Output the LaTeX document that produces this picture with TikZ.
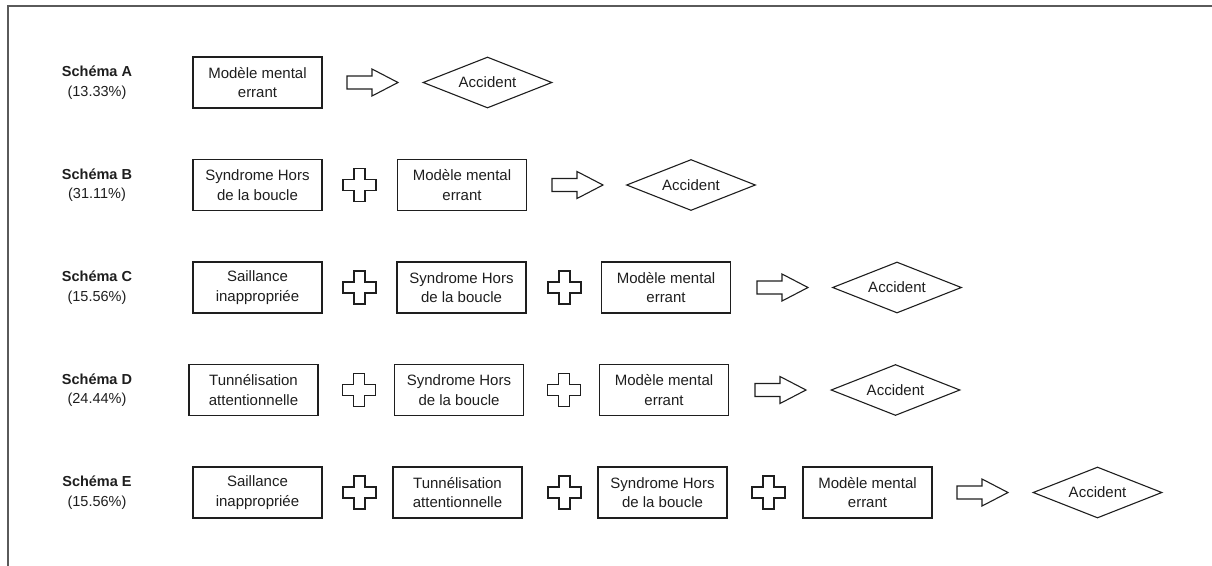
\documentclass[tikz,border=0pt]{standalone}
\usepackage{fontspec}
\setmainfont{Liberation Sans}
\usetikzlibrary{shapes.geometric}
\definecolor{framegray}{HTML}{5A5A5A}
\definecolor{ink}{HTML}{1E1E1E}
\tikzset{
  shapeline/.style={draw=ink, line width=1.1pt, line join=miter},
  factor/.style={shapeline, rectangle, minimum width=129pt, minimum height=51pt, inner sep=0pt, align=center, text=ink, font=\fontsize{15}{19.5}\selectfont},
  outcome/.style={shapeline, diamond, aspect=2.53, minimum width=129pt, minimum height=51pt, inner sep=0pt, text=ink, font=\fontsize{15}{19.5}\selectfont},
  rowlabel/.style={align=center, text=ink, inner sep=0pt, font=\fontsize{14.5}{19.5}\selectfont},
  plussym/.pic={\draw[shapeline] (-5.5,-16.5) -- (5.5,-16.5) -- (5.5,-5.5) -- (16.5,-5.5) -- (16.5,5.5) -- (5.5,5.5) -- (5.5,16.5) -- (-5.5,16.5) -- (-5.5,5.5) -- (-16.5,5.5) -- (-16.5,-5.5) -- (-5.5,-5.5) -- cycle;},
  blockarr/.pic={\draw[shapeline] (0,-6.5) -- (25,-6.5) -- (25,-13.5) -- (51,0) -- (25,13.5) -- (25,6.5) -- (0,6.5) -- cycle;}
}
\begin{document}
\begin{tikzpicture}[x=1pt, y=-1pt]
\useasboundingbox (0,0) rectangle (1212,565);
\draw[framegray, line width=2pt] (8,566) -- (8,6) -- (1213,6);

% Row A
\node[rowlabel] (la) at (97,82.5) {\textbf{Schéma A}\\(13.33\%)};
\node[factor] (a1) at (257.5,82.5) {Modèle mental\\errant};
\pic at (347,82.5) {blockarr};
\node[outcome] (ad) at (487.5,82.5) {Accident};

% Row B
\node[rowlabel] (lb) at (97,185) {\textbf{Schéma B}\\(31.11\%)};
\node[factor] (b1) at (257.5,185) {Syndrome Hors\\de la boucle};
\pic at (359.5,185) {plussym};
\node[factor] (b2) at (462,185) {Modèle mental\\errant};
\pic at (552,185) {blockarr};
\node[outcome] (bd) at (691,185) {Accident};

% Row C
\node[rowlabel] (lc) at (97,287.5) {\textbf{Schéma C}\\(15.56\%)};
\node[factor] (c1) at (257.5,287.5) {Saillance\\inappropriée};
\pic at (359.5,287.5) {plussym};
\node[factor] (c2) at (461.5,287.5) {Syndrome Hors\\de la boucle};
\pic at (564.5,287.5) {plussym};
\node[factor] (c3) at (666,287.5) {Modèle mental\\errant};
\pic at (757,287.5) {blockarr};
\node[outcome] (cd) at (897,287.5) {Accident};

% Row D
\node[rowlabel] (ld) at (97,390) {\textbf{Schéma D}\\(24.44\%)};
\node[factor] (d1) at (253.5,390) {Tunnélisation\\attentionnelle};
\pic at (359,390) {plussym};
\node[factor] (d2) at (459,390) {Syndrome Hors\\de la boucle};
\pic at (564,390) {plussym};
\node[factor] (d3) at (664,390) {Modèle mental\\errant};
\pic at (755,390) {blockarr};
\node[outcome] (dd) at (895.5,390) {Accident};

% Row E
\node[rowlabel] (le) at (97,492.5) {\textbf{Schéma E}\\(15.56\%)};
\node[factor] (e1) at (257.5,492.5) {Saillance\\inappropriée};
\pic at (359.5,492.5) {plussym};
\node[factor] (e2) at (457.5,492.5) {Tunnélisation\\attentionnelle};
\pic at (564.5,492.5) {plussym};
\node[factor] (e3) at (662.5,492.5) {Syndrome Hors\\de la boucle};
\pic at (768.5,492.5) {plussym};
\node[factor] (e4) at (867.5,492.5) {Modèle mental\\errant};
\pic at (957,492.5) {blockarr};
\node[outcome] (ed) at (1097.5,492.5) {Accident};
\end{tikzpicture}
\end{document}
